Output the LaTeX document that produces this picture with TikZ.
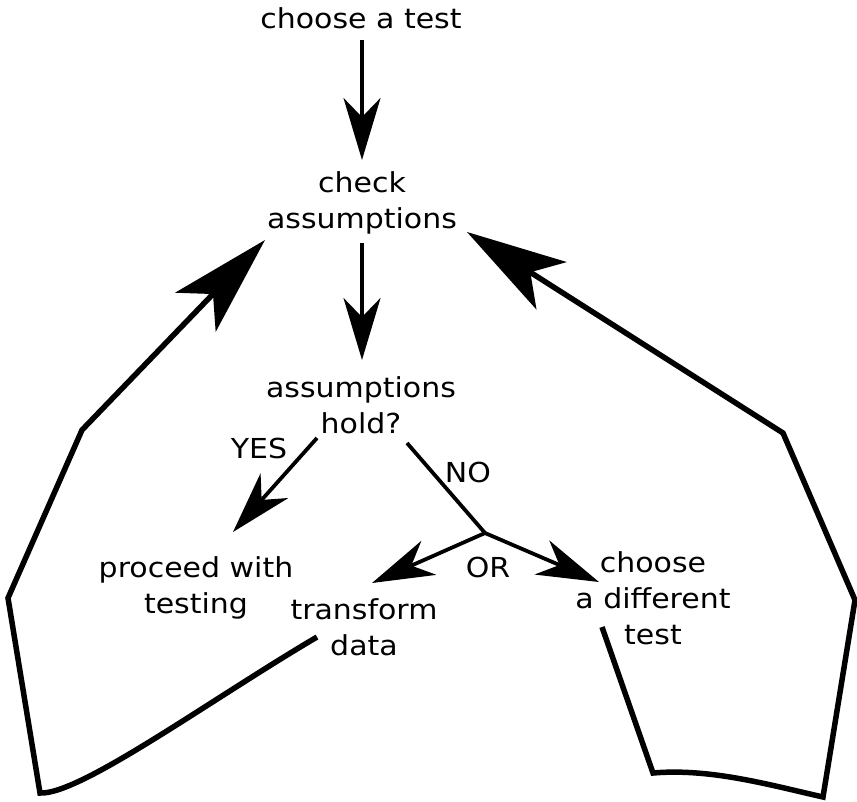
\documentclass[tikz,border=0pt]{standalone}
\usepackage{fontspec}
\setmainfont{DejaVu Sans}[FakeStretch=1.09]
\usetikzlibrary{arrows.meta,calc}
\begin{document}
\begin{tikzpicture}[x=1pt,y=-1pt,
  txt/.style={inner sep=0pt, outer sep=0pt, align=center, font=\fontsize{27.5}{36}\selectfont},
  smallarrow/.style={line width=3.8pt, -{Stealth[length=62pt 0 0, width=37pt 0 0, inset=19pt 0 0]}},
  thinline/.style={line width=3.8pt},
  bigarrow/.style={line width=5.5pt, -{Stealth[length=100pt 0 0, width=56pt 0 0, inset=25pt 0 0]}}]
\useasboundingbox (0,0) rectangle (857,801);

\node[txt] (choose) at (361,18) {choose a test};
\node[txt] (check) at (362,203) {check\\assumptions};
\node[txt] (hold) at (361,405) {assumptions\\hold?};
\node[txt] (proceed) at (196,588) {proceed with\\testing};
\node[txt] (transform) at (364,627) {transform\\data};
\node[txt] (different) at (653,598) {choose\\a different\\test};
\node[txt] (yes) at (259,448) {YES};
\node[txt] (no) at (468,472) {NO};
\node[txt] (or) at (488,567) {OR};
\coordinate (j) at (485,533);

\draw[smallarrow] ($(choose)+(1,22)$) -- ($(check)+(0,-43)$);
\draw[smallarrow] ($(check)+(0,40)$) -- ($(hold)+(1,-45)$);
\draw[smallarrow] ($(hold)+(-44,33)$) -- ($(proceed)+(37,-56)$);
\draw[thinline] ($(hold)+(46,38)$) -- (j);
\draw[smallarrow] (j) -- ($(transform)+(8,-44)$);
\draw[smallarrow] (j) -- ($(different)+(-54,-16)$);

\draw[bigarrow] ($(transform)+(-47,10)$) .. controls (210,700) and (80,795) .. (40,793)
  -- (8,598) -- (82,430) -- ($(check)+(-97,37)$);
\draw[bigarrow] ($(different)+(-51,29)$) -- (653,773) .. controls (710,768) and (770,785) .. (823,797)
  -- (855,600) -- (783,433) -- ($(check)+(105,29)$);
\end{tikzpicture}
\end{document}
